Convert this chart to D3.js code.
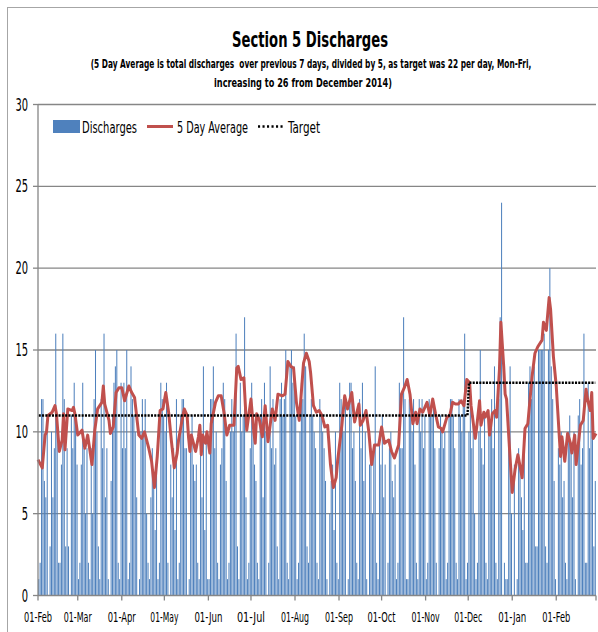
<!DOCTYPE html>
<html>
<head>
<meta charset="utf-8">
<script src="https://cdn.jsdelivr.net/npm/d3@7"></script>
<style>
  body { margin: 0; background: #fff; }
  svg text { font-family: "Liberation Sans Narrow", "DejaVu Sans Condensed", "Liberation Sans", sans-serif; fill: #000; }
</style>
</head>
<body>
<div id="chart"></div>
<script>
// daily discharges, one value per day from Sat 01-Feb-2014 (rows are Sat..Fri)
const startDate = '2014-02-01';
const endDate = '2015-03-01';
const discharges = [
  1, 2, 12, 12, 7, 6, 10,
  0, 3, 10, 6, 9, 16, 11,
  2, 2, 8, 16, 12, 3, 9,
  3, 0, 11, 9, 13, 11, 8,
  1, 2, 8, 13, 9, 5, 9,
  2, 1, 9, 5, 12, 15, 10,
  3, 1, 12, 9, 16, 6, 9,
  1, 0, 7, 11, 13, 14, 15,
  2, 1, 13, 9, 13, 9, 15,
  1, 2, 14, 12, 11, 10, 6,
  0, 1, 10, 12, 10, 12, 5,
  2, 1, 6, 9, 7, 4, 8,
  1, 2, 13, 12, 11, 10, 13,
  2, 0, 8, 6, 9, 4, 12,
  1, 2, 11, 12, 12, 9, 9,
  0, 1, 9, 11, 8, 7, 8,
  2, 1, 10, 6, 14, 4, 10,
  1, 1, 12, 12, 14, 9, 10,
  2, 1, 8, 9, 13, 12, 7,
  1, 2, 10, 12, 10, 11, 16,
  3, 1, 13, 10, 11, 17, 6,
  1, 2, 9, 13, 10, 8, 7,
  2, 1, 11, 12, 6, 13, 10,
  0, 2, 14, 9, 12, 8, 9,
  3, 1, 12, 13, 11, 12, 15,
  2, 1, 14, 15, 13, 14, 11,
  1, 2, 10, 13, 12, 16, 14,
  3, 2, 11, 12, 11, 10, 9,
  2, 1, 12, 11, 10, 9, 7,
  1, 0, 5, 7, 8, 4, 10,
  2, 1, 13, 12, 11, 10, 12,
  0, 1, 13, 13, 9, 10, 7,
  2, 1, 12, 9, 13, 7, 10,
  1, 0, 8, 9, 5, 9, 14,
  2, 1, 10, 8, 11, 6, 8,
  0, 2, 9, 10, 7, 6, 8,
  1, 2, 13, 9, 9, 17, 12,
  1, 1, 12, 11, 10, 12, 8,
  2, 1, 12, 10, 12, 9, 11,
  1, 2, 12, 11, 11, 12, 9,
  2, 0, 9, 11, 10, 9, 10,
  1, 2, 11, 12, 12, 11, 9,
  2, 1, 12, 11, 10, 12, 16,
  1, 2, 10, 12, 9, 11, 5,
  1, 2, 10, 15, 9, 8, 11,
  2, 1, 11, 10, 12, 9, 14,
  2, 1, 12, 17, 24, 0, 2,
  1, 1, 9, 14, 5, 0, 8,
  0, 1, 9, 8, 6, 4, 10,
  2, 2, 13, 14, 12, 13, 14,
  3, 3, 15, 15, 15, 15, 16,
  3, 2, 15, 20, 14, 12, 7,
  1, 0, 9, 8, 10, 6, 7,
  2, 1, 10, 11, 9, 6, 10,
  1, 0, 11, 12, 8, 9, 16,
  2, 2, 13, 9, 12, 10, 3,
  7
];

// 5 day average (day offset from 01-Feb-2014, value)
const avgDays = [
  0, 3, 5, 6, 7, 10, 11, 12, 13, 15, 17, 18, 19, 21, 24, 25, 26, 28, 31, 33,
  35, 38, 40, 42, 45, 46, 47, 50, 51, 53, 55, 57, 59, 61, 64, 66, 68, 71, 73, 75,
  78, 80, 82, 84, 86, 88, 90, 92, 94, 96, 98, 99, 101, 103, 105, 106, 107, 108, 111, 113,
  114, 115, 116, 118, 119, 121, 122, 125, 127, 129, 131, 133, 135, 138, 140, 141, 143, 145, 147, 150,
  152, 153, 154, 156, 158, 160, 162, 165, 167, 169, 172, 174, 176, 178, 180, 182, 184, 187, 189, 191,
  192, 194, 196, 198, 200, 202, 204, 206, 208, 210, 211, 214, 216, 218, 221, 223, 226, 227, 229, 231,
  233, 235, 237, 240, 242, 244, 247, 249, 251, 254, 256, 258, 260, 262, 264, 266, 267, 269, 271, 274,
  276, 278, 280, 282, 284, 285, 288, 290, 292, 294, 296, 298, 300, 302, 304, 305, 308, 309, 311, 312,
  314, 315, 317, 318, 320, 322, 323, 325, 326, 328, 329, 330, 332, 334, 336, 338, 341, 343, 345, 348,
  350, 352, 355, 356, 358, 360, 361, 363, 365, 368, 369, 371, 373, 375, 376, 378, 379, 382, 384, 386,
  387, 389, 390, 391, 393
];
const avgValues = [
  8.3, 7.8, 9.8, 10.0, 11.0, 11.2, 11.4, 11.6, 11.1, 8.8, 9.5, 11.1, 8.9, 11.4, 11.3, 11.5, 11.1, 9.8, 10.1, 9.0,
  9.8, 8.0, 10.1, 11.4, 11.8, 12.8, 11.7, 10.7, 9.9, 10.3, 12.4, 12.7, 12.7, 11.9, 12.8, 12.4, 12.1, 9.8, 9.6, 10.0,
  9.0, 8.2, 6.6, 8.5, 11.3, 11.4, 12.4, 11.2, 9.4, 7.8, 8.7, 9.5, 10.5, 11.4, 11.0, 9.7, 8.8, 9.8, 8.8, 9.7,
  10.4, 8.6, 9.8, 9.3, 10.0, 8.7, 10.5, 11.8, 12.2, 12.2, 11.2, 9.8, 10.4, 10.4, 13.9, 14.0, 13.2, 13.3, 10.1, 12.0,
  10.0, 9.3, 11.1, 10.7, 9.7, 11.6, 9.4, 11.4, 10.7, 12.3, 12.2, 12.3, 14.3, 14.0, 13.9, 11.8, 10.7, 14.2, 14.8, 14.3,
  13.6, 11.6, 11.2, 11.3, 11.0, 10.3, 10.4, 8.0, 6.6, 7.2, 8.2, 10.4, 12.2, 11.4, 12.4, 10.6, 11.7, 10.4, 10.7, 11.3,
  10.0, 8.0, 9.2, 9.2, 10.3, 9.3, 9.5, 8.8, 8.4, 9.2, 12.3, 12.7, 13.2, 12.3, 10.5, 11.2, 10.5, 11.4, 11.2, 11.8,
  11.0, 12.0, 11.1, 10.3, 10.2, 10.0, 10.9, 11.0, 11.8, 11.7, 11.7, 11.9, 11.6, 13.2, 13.0, 11.6, 9.6, 10.3, 11.9, 10.4,
  11.2, 10.9, 11.3, 9.8, 11.1, 11.3, 10.9, 13.8, 16.7, 14.0, 12.3, 12.0, 9.1, 6.3, 7.7, 8.6, 7.2, 10.2, 10.5, 13.4,
  14.8, 15.2, 15.6, 16.7, 16.2, 18.2, 17.5, 14.6, 12.8, 8.5, 9.7, 8.2, 9.9, 9.3, 8.7, 9.8, 8.0, 10.4, 10.7, 12.6,
  12.0, 11.3, 12.4, 9.6, 9.9
];

// target: 22 per day over 5 days (11), raised to 26 (13) from December 2014
const targetFrom = ['2014-02-01', '2014-12-01'];
const targetTo = ['2014-11-30', '2015-02-28'];
const targetLevel = [11, 13];

const yTicks = [0, 5, 10, 15, 20, 25, 30];
const legendLabels = ['Discharges', '5 Day Average', 'Target'];

const titleText = 'Section 5 Discharges';
const subtitleLines = [
  '(5 Day Average is total discharges  over previous 7 days, divided by 5, as target was 22 per day, Mon-Fri,',
  'increasing to 26 from December 2014)'
];

// dimension stuff
const W = 598;
const H = 632;
const plot = { left: 38, right: 596, top: 104.5, bottom: 595.5 };
const BLUE = '#4F81BD';
const RED = '#C0504D';
const GRID = '#868686';

const parse = d3.timeParse('%Y-%m-%d');
const t0 = parse(startDate);
const t1 = parse(endDate);
const nDays = d3.timeDay.count(t0, t1);

const xTime = d3.scaleTime().domain([t0, t1]).range([plot.left, plot.right]);
const xDay = d3.scaleLinear().domain([0, nDays]).range([plot.left, plot.right]);
const y = d3.scaleLinear().domain([0, 30]).range([plot.bottom, plot.top]);
const step = xDay(1) - xDay(0);

const svg = d3.select('#chart').append('svg')
  .attr('width', W)
  .attr('height', H);

svg.append('rect')
  .attr('x', 7.5).attr('y', 7.5)
  .attr('width', W).attr('height', H)
  .attr('fill', '#fff')
  .attr('stroke', '#a6a6a6');

// squeeze a centred text horizontally to the width seen in the picture
function squeezed(str, cx, cy, size, width) {
  const $t = svg.append('text')
    .attr('text-anchor', 'middle')
    .attr('font-size', size).attr('font-weight', 'bold')
    .style('white-space', 'pre')
    .text(str);
  const natural = $t.node().getComputedTextLength();
  $t.attr('transform', `translate(${cx},${cy}) scale(${width / natural},1)`);
  return $t;
}

// titles
squeezed(titleText, 310, 47, 22, 156);
const subWidths = [441, 178];
const subY = [68, 87];
const subX = [311, 303];
subtitleLines.forEach((s, i) => squeezed(s, subX[i], subY[i], 11.5, subWidths[i]));

// gridlines
const $grid = svg.append('g').attr('class', 'grid');
$grid.selectAll('line')
  .data(yTicks.filter(d => d > 0))
  .join('line')
  .attr('x1', plot.left).attr('x2', plot.right)
  .attr('y1', d => y(d)).attr('y2', d => y(d))
  .attr('stroke', GRID).attr('stroke-width', 1.3);

// bars
svg.append('g').attr('class', 'bars')
  .selectAll('rect')
  .data(discharges)
  .join('rect')
  .attr('x', (d, i) => xDay(i + 0.5) - step * 0.36)
  .attr('width', step * 0.72)
  .attr('y', d => y(d))
  .attr('height', d => y(0) - y(d))
  .attr('fill', BLUE);

// 5 day average
const avgData = avgDays.map((d, i) => ({ day: d, value: avgValues[i] }));
const line = d3.line()
  .x(d => xDay(d.day))
  .y(d => y(d.value));

svg.append('path')
  .datum(avgData)
  .attr('d', line)
  .attr('fill', 'none')
  .attr('stroke', RED)
  .attr('stroke-width', 3)
  .attr('stroke-linejoin', 'round');

// target
const targetPts = [];
targetFrom.forEach((f, i) => {
  const a = d3.timeDay.count(t0, parse(f));
  const b = d3.timeDay.count(t0, parse(targetTo[i]));
  targetPts.push({ day: a + 0.5, value: targetLevel[i] });
  targetPts.push({ day: b + 0.5, value: targetLevel[i] });
});

svg.append('path')
  .datum(targetPts)
  .attr('d', line)
  .attr('fill', 'none')
  .attr('stroke', '#000')
  .attr('stroke-width', 2.4)
  .attr('stroke-dasharray', '2.1,1.2');

// axes lines
svg.append('line')
  .attr('x1', plot.left).attr('x2', plot.left)
  .attr('y1', plot.top).attr('y2', plot.bottom)
  .attr('stroke', GRID).attr('stroke-width', 1.3);
svg.append('line')
  .attr('x1', plot.left).attr('x2', plot.right)
  .attr('y1', plot.bottom).attr('y2', plot.bottom)
  .attr('stroke', GRID).attr('stroke-width', 1.3);

// y ticks + labels
const $yAxis = svg.append('g').attr('class', 'y-axis');
$yAxis.selectAll('line')
  .data(yTicks)
  .join('line')
  .attr('x1', plot.left - 5).attr('x2', plot.left)
  .attr('y1', d => y(d)).attr('y2', d => y(d))
  .attr('stroke', GRID).attr('stroke-width', 1.3);
$yAxis.selectAll('text')
  .data(yTicks)
  .join('text')
  .attr('x', 28)
  .attr('y', d => y(d) + 6)
  .attr('text-anchor', 'end')
  .attr('font-size', 17)
  .attr('textLength', d => String(d).length * 6.3)
  .attr('lengthAdjust', 'spacingAndGlyphs')
  .text(d => d);

// x ticks + labels (first of each month)
const months = d3.timeMonth.range(t0, d3.timeDay.offset(t1, 1));
const fmt = d3.timeFormat('%d-%b');
const $xAxis = svg.append('g').attr('class', 'x-axis');
$xAxis.selectAll('line')
  .data(months)
  .join('line')
  .attr('x1', d => xTime(d)).attr('x2', d => xTime(d))
  .attr('y1', plot.bottom).attr('y2', plot.bottom + 5)
  .attr('stroke', GRID).attr('stroke-width', 1.3);
$xAxis.selectAll('text')
  .data(months.slice(0, -1))
  .join('text')
  .attr('x', d => xTime(d))
  .attr('y', 622)
  .attr('text-anchor', 'middle')
  .attr('font-size', 14)
  .attr('textLength', 28).attr('lengthAdjust', 'spacingAndGlyphs')
  .text(d => fmt(d));

// legend
const $legend = svg.append('g').attr('class', 'legend');
$legend.append('rect')
  .attr('x', 53).attr('y', 120)
  .attr('width', 27).attr('height', 13)
  .attr('fill', BLUE);
$legend.append('line')
  .attr('x1', 147).attr('x2', 173)
  .attr('y1', 126.5).attr('y2', 126.5)
  .attr('stroke', RED).attr('stroke-width', 3);
$legend.append('line')
  .attr('x1', 258).attr('x2', 285)
  .attr('y1', 126.5).attr('y2', 126.5)
  .attr('stroke', '#000').attr('stroke-width', 2.4)
  .attr('stroke-dasharray', '2.1,2.4');
const legendX = [82, 177, 288];
const legendW = [55, 71, 32];
$legend.selectAll('text')
  .data(legendLabels)
  .join('text')
  .attr('x', (d, i) => legendX[i])
  .attr('y', 133)
  .attr('font-size', 16)
  .attr('textLength', (d, i) => legendW[i]).attr('lengthAdjust', 'spacingAndGlyphs')
  .text(d => d);
</script>
</body>
</html>
